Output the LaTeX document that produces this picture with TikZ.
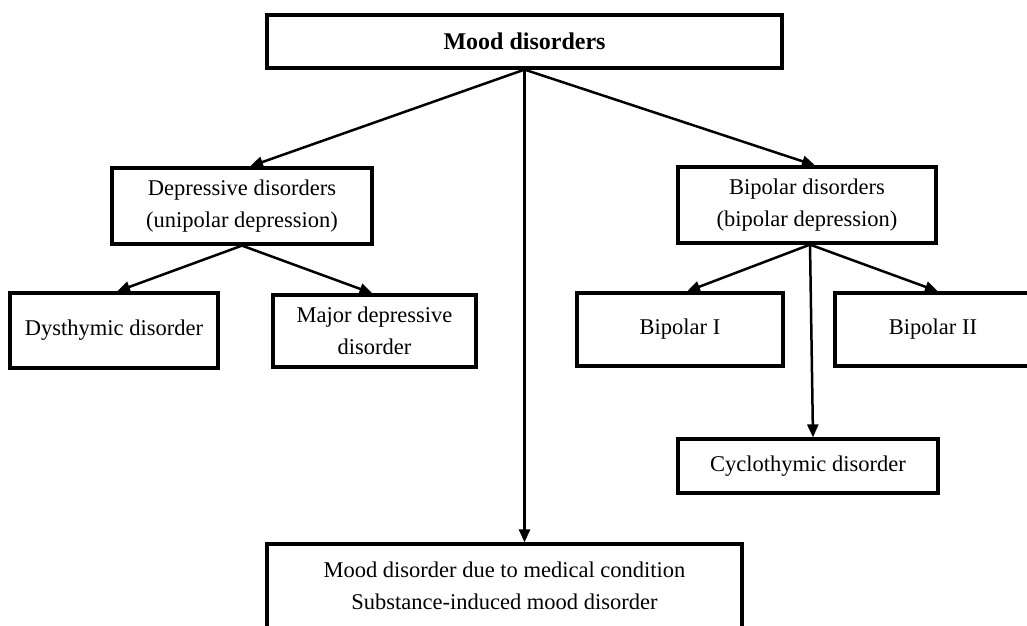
\documentclass[tikz,border=0pt]{standalone}
\usepackage{fontspec}
\setmainfont{Liberation Serif}
\usetikzlibrary{arrows.meta,calc}

\tikzset{
  box/.style={draw=black, line width=3.2pt, fill=white, inner sep=0pt,
              align=center, font=\fontsize{22.5}{32}\selectfont},
  link/.style={draw=black, line width=2.5pt,
               -{Triangle[length=13pt,width=11pt]}}
}

\begin{document}
\begin{tikzpicture}[x=1pt,y=-1pt]
  \useasboundingbox (0,0) rectangle (1027,625);
  \fill[white] (0,0) rectangle (1027,625);
  \clip (0,0) rectangle (1027,625);

  % top level
  \node[box, minimum width=515pt, minimum height=53pt,
        font=\fontsize{24}{30}\selectfont\bfseries] (mood) at (524.5,41.5) {Mood disorders};

  % second level
  \node[box, minimum width=260pt, minimum height=76pt] (dep) at (242,206)
    {Depressive disorders\\(unipolar depression)};
  \node[box, minimum width=258pt, minimum height=76pt] (bp) at (807,205)
    {Bipolar disorders\\(bipolar depression)};

  % depressive branch
  \node[box, minimum width=208pt, minimum height=75pt] (dys) at (114,330.5)
    {Dysthymic disorder};
  \node[box, minimum width=203pt, minimum height=72pt] (maj) at (374.5,331)
    {Major depressive\\disorder};

  % bipolar branch
  \node[box, minimum width=206pt, minimum height=73pt] (bpi) at (680,329.5)
    {Bipolar I};
  \node[box, minimum width=196pt, minimum height=73pt] (bpii) at (933,329.5)
    {Bipolar II};
  \node[box, minimum width=260pt, minimum height=54pt] (cyc) at (808,466)
    {Cyclothymic disorder};

  % other mood disorders
  \node[box, minimum width=475pt, minimum height=84pt] (other) at (504.5,586)
    {Mood disorder due to medical condition\\Substance-induced mood disorder};

  % connectors
  \draw[link] (mood.south) -- ($(dep.north)+(8,0)$);
  \draw[link] (mood.south) -- ($(bp.north)+(8,0)$);
  \draw[link] (mood.south) -- (mood.south |- other.north);

  \draw[link] (dep.south) -- ($(dys.north)+(3,0)$);
  \draw[link] (dep.south) -- ($(maj.north)+(-2,0)$);

  \coordinate (bpo) at ($(bp.south)+(3,0)$);
  \draw[link] (bpo) -- ($(bpi.north)+(7,0)$);
  \draw[link] (bpo) -- ($(bpii.north)+(5,0)$);
  \draw[link] (bpo) -- ($(cyc.north)+(5,0)$);
\end{tikzpicture}
\end{document}
